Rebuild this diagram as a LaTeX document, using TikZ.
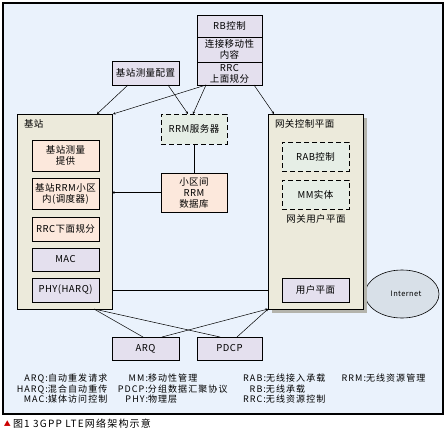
\documentclass[tikz,border=0pt]{standalone}
\usepackage{fontspec}
\newfontfamily\cjk[LetterSpace=5]{Noto Sans CJK SC}
\newfontfamily\cjkwide[LetterSpace=12]{Noto Sans CJK SC}
\usetikzlibrary{arrows.meta,shapes.geometric,calc}
\definecolor{bgblue}{HTML}{EAF2FC}
\definecolor{beige}{HTML}{ECEADB}
\definecolor{peach}{HTML}{FCE8DC}
\definecolor{lav}{HTML}{E4E0EE}
\definecolor{lgreen}{HTML}{E6EEE6}
\definecolor{cloud}{HTML}{D8E0E8}
\definecolor{shadowgray}{HTML}{B4B4AC}
\tikzset{
  every node/.style={font=\cjk\fontsize{9.5}{11}\selectfont, inner sep=0pt, outer sep=0pt},
  boxa/.style={draw=black, line width=0.7pt, align=center},
  solidbox/.style={boxa},
  dashbox/.style={boxa, dashed, dash pattern=on 5pt off 3pt, fill=lgreen},
  conn/.style={line width=0.5pt},
  tipconn/.style={line width=0.5pt, -{Stealth[length=2.5pt,width=2.5pt]}},
  legend/.style={anchor=base west, font=\cjkwide\fontsize{9}{10}\selectfont},
}
\begin{document}
\begin{tikzpicture}[x=1pt,y=-1pt]
\useasboundingbox (0,0) rectangle (446,433);
% frame
\draw[line width=1.2pt, fill=bgblue] (3,3) rectangle (443,414);

% internet cloud (behind gateway)
\node[ellipse, draw=black, line width=0.6pt, fill=cloud, minimum width=74pt, minimum height=48pt] (inet) at (402,294) {};
\node[font=\cjk\fontsize{7.5}{8}\selectfont] (inettxt) at (406,294) {Internet};

% gateway shadow and box
\node[fill=shadowgray, minimum width=95pt, minimum height=195pt] (gwsh) at (319.5,215.5) {};
\node[solidbox, fill=beige, minimum width=95pt, minimum height=195pt] (gw) at (315.5,211.5) {};
\node[anchor=west] (gwlab) at (275,124) {网关控制平面};
\node[dashbox, minimum width=67pt, minimum height=29pt] (rab) at (315.5,156.5) {RAB控制};
\node[dashbox, minimum width=67pt, minimum height=29pt] (mm) at (315.5,194.5) {MM实体};
\node (gwup) at (316,219) {网关用户平面};
\node[solidbox, fill=lav, minimum width=67pt, minimum height=24pt] (up) at (315.5,290) {用户平面};

% RB stack
\node[solidbox, fill=lav, minimum width=65pt, minimum height=22pt] (rb1) at (229.5,26) {RB控制};
\node[solidbox, fill=lav, minimum width=65pt, minimum height=25pt] (rb2) at (229.5,49.5) {连接移动性\\内容};
\node[solidbox, fill=lav, minimum width=65pt, minimum height=23pt] (rb3) at (229.5,73.5) {RRC\\上面规分};

% measurement configuration
\node[solidbox, fill=lav, minimum width=67pt, minimum height=24pt] (mc) at (145.5,73) {基站测量配置};

% eNB
\node[solidbox, fill=beige, minimum width=95pt, minimum height=195pt] (enb) at (64.5,211.5) {};
\node[anchor=west] (enblab) at (24,124) {基站};
\node[solidbox, fill=peach, minimum width=67pt, minimum height=31pt] (e1) at (65.5,155.5) {基站测量\\提供};
\node[solidbox, fill=peach, minimum width=67pt, minimum height=31pt] (e2) at (65.5,193.5) {基站RRM小区\\内(调度器)};
\node[solidbox, fill=peach, minimum width=67pt, minimum height=24pt] (e3) at (65.5,229) {RRC下面规分};
\node[solidbox, fill=lav, minimum width=67pt, minimum height=23pt] (e4) at (65.5,259.5) {MAC};
\node[solidbox, fill=lav, minimum width=67pt, minimum height=24pt] (e5) at (65.5,290) {PHY(HARQ)};

% RRM server and database
\node[dashbox, minimum width=66pt, minimum height=30pt] (rrm) at (194,129) {RRM服务器};
\node[solidbox, fill=peach, minimum width=66pt, minimum height=39pt] (db) at (194,192.5) {小区间\\RRM\\数据库};

% ARQ, PDCP
\node[solidbox, fill=lav, minimum width=67pt, minimum height=23pt] (arq) at (145.5,348.5) {ARQ};
\node[solidbox, fill=lav, minimum width=65pt, minimum height=23pt] (pdcp) at (229.5,348.5) {PDCP};

% connectors
\draw[tipconn] ([xshift=-17.5pt]mc.south) -- ([xshift=32.5pt]enb.north);
\draw[tipconn] ([xshift=22.5pt]mc.south) -- ([xshift=-6pt]rrm.north);
\draw[tipconn] ([xshift=-23.5pt]rb3.south) -- ([xshift=1pt]enb.north east);
\draw[tipconn] ([xshift=-23.5pt]rb3.south) -- ([xshift=-1pt]rrm.north);
\draw[tipconn] ([xshift=24.5pt]rb3.south) -- ([xshift=-41.5pt]gw.north);
\draw[conn] (rrm.south) -- (db.north);
\draw[tipconn] (db.west) -- (db.west -| enb.east);
\draw[conn] (enb.east |- up.west) -- (gw.west |- up.west);
\draw[conn] ([xshift=29.5pt]enb.south) -- ([xshift=-2.5pt]arq.north);
\draw[conn] ([xshift=29.5pt]enb.south) -- ([xshift=-9.5pt]pdcp.north);
\draw[tipconn] ([xshift=16.5pt]arq.north) -- (gw.south west);
\draw[tipconn] ([xshift=7.5pt]pdcp.north) -- (gw.south west);

% legend
\node[legend] (l1) at (48,381) {\llap{ARQ:}自动重发请求};
\node[legend] (l2) at (48,392) {\llap{HARQ:}混合自动重传};
\node[legend] (l3) at (48,402) {\llap{MAC:}媒体访问控制};
\node[legend] (l4) at (148,381) {\llap{MM:}移动性管理};
\node[legend] (l5) at (148,392) {\llap{PDCP:}分组数据汇聚协议};
\node[legend] (l6) at (148,402) {\llap{PHY:}物理层};
\node[legend] (l7) at (266,381) {\llap{RAB:}无线接入承载};
\node[legend] (l8) at (266,392) {\llap{RB:}无线承载};
\node[legend] (l9) at (266,402) {\llap{RRC:}无线资源控制};
\node[legend] (l10) at (366,381) {\llap{RRM:}无线资源管理};

% caption
\node[anchor=west, text=red!80!black, font=\cjk\fontsize{7}{8}\selectfont] (tri) at (4,424) {▲};
\node[anchor=west, font=\cjkwide\fontsize{10}{11}\selectfont] (cap) at (13,424) {图1 3GPP  LTE网络架构示意};
\end{tikzpicture}
\end{document}
